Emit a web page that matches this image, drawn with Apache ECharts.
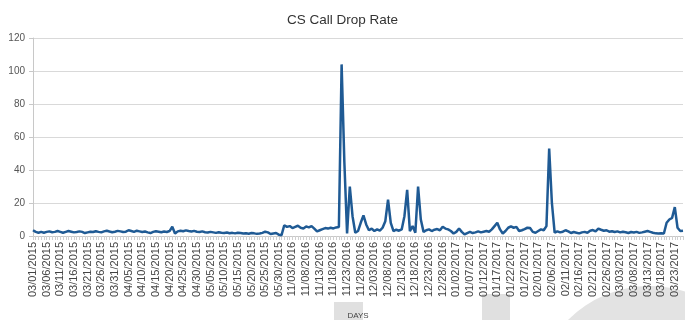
<!DOCTYPE html>
<html>
<head>
<meta charset="utf-8">
<script src="https://cdn.jsdelivr.net/npm/echarts@6/dist/echarts.min.js"></script>
<style>
  html, body { margin: 0; padding: 0; background: #fff; }
  #chart { width: 685px; height: 320px; }
</style>
</head>
<body>
<div id="chart"></div>
<script>
// date ranges covered by the x axis (inclusive)
const dateRanges = [
  ['2015-03-01', '2015-05-31'],
  ['2016-10-31', '2017-03-26'],
];

// drop rate, one value per day
const drop2015 = [
  3.5, 2.5, 2, 2.5, 2, 2.5, 2.8, 2.3, 2.5, 3,
  2.5, 2, 2.5, 3, 2.6, 2.2, 2.4, 2.8, 2.5, 1.8,
  2.2, 2.6, 2.4, 2.9, 2.5, 2.2, 2.8, 3.2, 2.7, 2.3,
  2.6, 3.1, 2.8, 2.4, 2.6, 3.5, 3, 2.5, 3.2, 2.8,
  2.4, 2.7, 2.2, 1.8, 2.5, 2.9, 2.6, 2.3, 2.7, 2.4,
  3, 5.6, 1.5, 2.8, 3.2, 2.9, 3.4, 3, 2.7, 3.1,
  2.6, 2.4, 2.8, 2.3, 2.1, 2.5, 2.2, 1.9, 2.3, 2,
  1.8, 2.1, 1.7, 1.9, 1.6, 2, 1.8, 1.5, 1.7, 1.4,
  1.8, 1.6, 1.3, 1.5, 1.9, 2.6, 2.2, 1.2, 1.5, 1.8,
  0.8, 0.5,
];
const drop2016 = [
  6.5, 5.5, 6, 4.8, 5.5, 6.2, 5, 4.6, 5.8, 5.2,
  6, 4.5, 2.8, 3.5, 4.2, 4.8, 4.5, 5, 4.6, 5.2,
  5.5, 104, 45, 1.5, 30, 12, 2, 3, 8, 12.5,
  7, 3.5, 4.5, 3, 4, 3.2, 5, 9, 22, 8,
  3, 3.8, 3.2, 4, 12, 28, 3, 6, 2, 30,
  10, 2.5, 3.5, 4, 3, 3.8, 4.2, 3.5, 5.6, 4.5,
  4,
];
const drop2017 = [
  3, 1.5, 2.5, 4.5, 2.5, 1, 1.8, 2.5, 1.8, 2.2,
  2.8, 2.2, 2.6, 3, 2.6, 4, 6, 8, 4, 1.5,
  3, 5, 5.8, 5, 5.5, 3, 3.5, 4.2, 5, 4.8,
  2.5, 2, 3, 4, 3.5, 6, 53, 20, 2, 2.8,
  2.2, 2.6, 3.5, 2.8, 1.8, 2.4, 2, 1.6, 2.2, 2.5,
  2, 3.2, 3.6, 2.8, 4.5, 3.8, 3.2, 3.5, 2.6, 2.9,
  2.4, 2.8, 2.2, 2.6, 2.3, 1.8, 2.4, 2.1, 2.5, 1.9,
  2.2, 2.6, 3, 2.5, 2, 1.6, 1.5, 1.7, 1.5, 8,
  10, 11, 17.5, 5, 3, 3.2,
];

const yTicks = { min: 0, max: 120, step: 20 };

const pad = (n) => String(n).padStart(2, '0');

// build MM/DD/YYYY labels for every day in the ranges
const days = [];
dateRanges.forEach(([from, to]) => {
  const d = new Date(from + 'T00:00:00Z');
  const end = new Date(to + 'T00:00:00Z');
  while (d <= end) {
    days.push(`${pad(d.getUTCMonth() + 1)}/${pad(d.getUTCDate())}/${d.getUTCFullYear()}`);
    d.setUTCDate(d.getUTCDate() + 1);
  }
});

const values = [...drop2015, ...drop2016, ...drop2017];

const chart = echarts.init(document.getElementById('chart'));
chart.setOption({
  backgroundColor: '#fff',
  animation: false,
  textStyle: { fontFamily: 'Liberation Sans, Arial, sans-serif' },
  title: {
    text: 'CS Call Drop Rate',
    left: 'center',
    top: 8,
    textStyle: { fontSize: 13.5, fontWeight: 'normal', color: '#333' },
  },
  // faint watermark shapes at the bottom
  graphic: [
    { type: 'circle', z: -10, shape: { cx: 650, cy: 402, r: 116 }, style: { fill: '#e3e3e3' } },
    { type: 'rect', z: -10, shape: { x: 482, y: 294, width: 28, height: 26 }, style: { fill: '#e0e0e0' } },
    { type: 'rect', z: -10, shape: { x: 334, y: 302, width: 29, height: 18 }, style: { fill: '#e0e0e0' } },
  ],
  grid: { left: 33, right: 2, top: 38, bottom: 84, outerBoundsMode: 'none' },
  xAxis: {
    type: 'category',
    data: days,
    boundaryGap: false,
    name: 'DAYS',
    nameLocation: 'middle',
    nameGap: 76,
    nameTextStyle: { fontSize: 8, color: '#444' },
    axisLine: { lineStyle: { color: '#c8c8c8' } },
    axisTick: { show: true, interval: 0, length: 4, lineStyle: { color: '#d0d0d0' } },
    axisLabel: { interval: 4, rotate: 90, fontSize: 11, color: '#444', margin: 6 },
    splitLine: { show: false },
  },
  yAxis: {
    type: 'value',
    min: yTicks.min,
    max: yTicks.max,
    interval: yTicks.step,
    axisLine: { show: true, lineStyle: { color: '#c8c8c8' } },
    axisTick: { show: true, length: 4, lineStyle: { color: '#c8c8c8' } },
    axisLabel: { fontSize: 10, color: '#555', margin: 8 },
    splitLine: { lineStyle: { color: '#d9d9d9' } },
  },
  series: [
    {
      type: 'line',
      data: values,
      showSymbol: false,
      smooth: false,
      lineStyle: { color: '#1f5a94', width: 2.5 },
      itemStyle: { color: '#1f5a94' },
    },
  ],
});
</script>
</body>
</html>
